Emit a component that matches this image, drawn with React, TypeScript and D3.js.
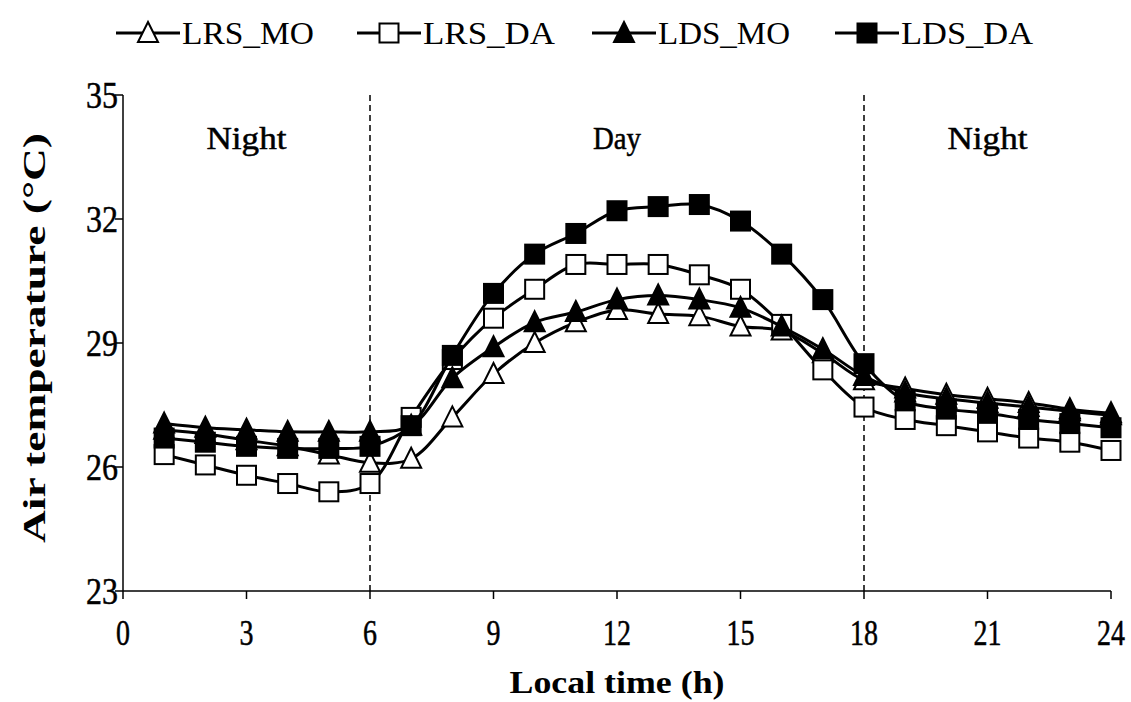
import * as d3 from 'd3';
import React from 'react';

// hourly air temperature (°C), hours 1..24
const hours = d3.range(1, 25);
const lrsMo = [26.9, 26.8, 26.65, 26.5, 26.3, 26.1, 26.2, 27.2, 28.25, 29.0, 29.5, 29.8, 29.7, 29.65, 29.4, 29.3, 28.75, 28.1, 27.9, 27.75, 27.65, 27.55, 27.4, 27.3];
const lrsDa = [26.3, 26.05, 25.8, 25.6, 25.4, 25.6, 27.2, 28.6, 29.6, 30.3, 30.9, 30.9, 30.9, 30.65, 30.3, 29.45, 28.35, 27.45, 27.15, 27.0, 26.85, 26.7, 26.6, 26.4];
const ldsMo = [27.05, 26.95, 26.9, 26.85, 26.85, 26.85, 27.0, 28.15, 28.9, 29.5, 29.75, 30.05, 30.15, 30.05, 29.85, 29.4, 28.85, 28.2, 27.8, 27.65, 27.55, 27.45, 27.35, 27.25];
const ldsDa = [26.7, 26.6, 26.5, 26.45, 26.45, 26.5, 27.0, 28.7, 30.2, 31.15, 31.65, 32.2, 32.3, 32.35, 31.95, 31.15, 30.05, 28.5, 27.6, 27.4, 27.3, 27.15, 27.05, 26.95];

const seriesNames = ['LRS_MO', 'LRS_DA', 'LDS_MO', 'LDS_DA'];
const seriesValues = [lrsMo, lrsDa, ldsMo, ldsDa];
const seriesShapes = ['triangle', 'square', 'triangle', 'square'];
const seriesFilled = [false, false, true, true];

const xTicks = [0, 3, 6, 9, 12, 15, 18, 21, 24];
const yTicks = [23, 26, 29, 32, 35];
const periodBreaks = [6, 18];
const periods = [
  { label: 'Night', at: 3 },
  { label: 'Day', at: 12 },
  { label: 'Night', at: 21 },
];

const W = 1131;
const H = 702;
const left = 123, right = 1111, top = 95, bottom = 591;

const x = d3.scaleLinear().domain([0, 24]).range([left, right]);
const y = d3.scaleLinear().domain([23, 35]).range([bottom, top]);

const line = d3.line<number>()
  .x((d, i) => x(hours[i]))
  .y(d => y(d))
  .curve(d3.curveCatmullRom.alpha(0.5));

const serif = '"Liberation Serif", "Times New Roman", serif';

function Marker({ shape, filled, cx, cy }: { shape: string; filled: boolean; cx: number; cy: number }) {
  const fill = filled ? '#000' : '#fff';
  if (shape === 'square') {
    return <rect x={cx - 9.5} y={cy - 9.5} width={19} height={19} fill={fill} stroke="#000" strokeWidth={2} />;
  }
  return <path d={`M${cx},${cy - 11} L${cx + 10},${cy + 9} L${cx - 10},${cy + 9} Z`} fill={fill} stroke="#000" strokeWidth={2} strokeLinejoin="miter" />;
}

// legend positions (left edge of the line sample)
const legendX = [116, 357, 592, 835];

export default function App() {
  return (
    <svg width={W} height={H} style={{ position: 'absolute', left: 0, top: 0, background: '#fff' }}>
      {/* legend */}
      {seriesNames.map((name, i) => (
        <g key={name}>
          <line x1={legendX[i]} x2={legendX[i] + 64} y1={33} y2={33} stroke="#000" strokeWidth={3} />
          <Marker shape={seriesShapes[i]} filled={seriesFilled[i]} cx={legendX[i] + 32} cy={33} />
          <text x={legendX[i] + 66} y={44} fontFamily={serif} fontSize={32}
            textLength={132} lengthAdjust="spacingAndGlyphs">{name}</text>
        </g>
      ))}

      {/* day/night separators */}
      {periodBreaks.map(b => (
        <line key={b} x1={x(b)} x2={x(b)} y1={top} y2={bottom} stroke="#000" strokeWidth={1.5} strokeDasharray="6,4" />
      ))}

      {periods.map((p, i) => (
        <text key={i} x={x(p.at)} y={149} textAnchor="middle" fontFamily={serif} fontSize={31}
          stroke="#000" strokeWidth={0.5}
          textLength={p.label.length * 16} lengthAdjust="spacingAndGlyphs">{p.label}</text>
      ))}

      {/* axes */}
      <line x1={left} x2={left} y1={top} y2={bottom} stroke="#000" strokeWidth={1.5} />
      <line x1={left} x2={right} y1={bottom} y2={bottom} stroke="#000" strokeWidth={1.5} />
      {yTicks.map(t => (
        <g key={t}>
          <line x1={left - 8} x2={left} y1={y(t)} y2={y(t)} stroke="#000" strokeWidth={1.5} />
          <text x={118} y={y(t) + 13} textAnchor="end" fontFamily={serif} fontSize={38}
            stroke="#000" strokeWidth={0.5}
            textLength={32} lengthAdjust="spacingAndGlyphs">{t}</text>
        </g>
      ))}
      {xTicks.map(t => (
        <g key={t}>
          <line x1={x(t)} x2={x(t)} y1={bottom} y2={bottom + 8} stroke="#000" strokeWidth={1.5} />
          <text x={x(t)} y={645} textAnchor="middle" fontFamily={serif} fontSize={36}
            stroke="#000" strokeWidth={0.5}
            textLength={String(t).length * 14} lengthAdjust="spacingAndGlyphs">{t}</text>
        </g>
      ))}

      <text x={617} y={693} textAnchor="middle" fontFamily={serif} fontWeight="bold" fontSize={32}
        textLength={215} lengthAdjust="spacingAndGlyphs">Local time (h)</text>
      <text transform={`translate(45,${(top + bottom) / 2 - 5}) rotate(-90)`} textAnchor="middle" fontFamily={serif}
        fontWeight="bold" fontSize={32} textLength={410} lengthAdjust="spacingAndGlyphs">Air temperature (°C)</text>

      {/* series */}
      {seriesValues.map((vals, si) => (
        <g key={seriesNames[si]}>
          <path d={line(vals) || ''} fill="none" stroke="#000" strokeWidth={3} />
          {vals.map((v, i) => (
            <Marker key={i} shape={seriesShapes[si]} filled={seriesFilled[si]} cx={x(hours[i])} cy={y(v)} />
          ))}
        </g>
      ))}
    </svg>
  );
}
